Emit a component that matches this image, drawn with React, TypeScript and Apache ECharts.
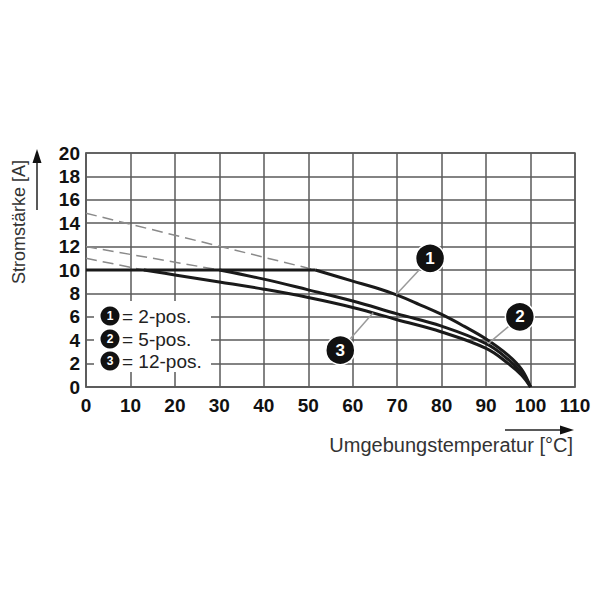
import React, { useEffect, useRef } from "react";
import * as echarts from "echarts";

// Derating curves (x = ambient temperature °C, y = current A)
const curve1Temps = [51.6, 60, 65, 70, 75, 80, 85, 90, 95, 98, 100];
const curve1Amps = [10, 9.05, 8.5, 7.85, 7.05, 6.2, 5.2, 4.1, 2.7, 1.5, 0];
const curve1FlatEnd = 51.6;
const curve1DashStart = 14.85;

const curve2Temps = [30, 40, 50, 60, 70, 80, 90, 95, 98, 100];
const curve2Amps = [10, 9.22, 8.3, 7.35, 6.25, 5.2, 3.7, 2.35, 1.2, 0];
const curve2FlatEnd = 30;
const curve2DashStart = 12;

const curve3Temps = [13, 20, 30, 40, 50, 60, 70, 80, 90, 95, 98, 100];
const curve3Amps = [10, 9.58, 8.98, 8.36, 7.65, 6.8, 5.75, 4.7, 3.3, 2.0, 1.0, 0];
const curve3FlatEnd = 13;
const curve3DashStart = 11;

const ratedCurrent = 10;

// Callout markers: [x, y] of badge and [x, y] of the point on the curve
const calloutLabels = ["1", "2", "3"];
const calloutBadges = [[77.4, 11.0], [97.6, 6.0], [57.2, 3.15]];
const calloutTargets = [[69.8, 7.9], [90.4, 3.68], [64.6, 6.35]];

const legendTexts = ["= 2-pos.", "= 5-pos.", "= 12-pos."];

const xTickMin = 0;
const xTickMax = 110;
const xTickStep = 10;
const yTickMin = 0;
const yTickMax = 20;
const yTickStep = 2;

const xName = "Umgebungstemperatur [°C]";
const yName = "Stromstärke [A]";

const FONT = "'Liberation Sans', Arial, Helvetica, sans-serif";

function zip(xs: number[], ys: number[]) {
  return xs.map((x, i) => [x, ys[i]]);
}

export default function App() {
  const ref = useRef<HTMLDivElement>(null);
  useEffect(() => {
    if (!ref.current) return;
    const chart = echarts.init(ref.current, undefined, { renderer: "svg" });
    const gridCol = "#5a5a5a";
    const solid = (data: number[][], smooth: boolean) => ({
      type: "line",
      data,
      symbol: "none",
      smooth: smooth ? 0.4 : false,
      lineStyle: { color: "#1a1a1a", width: 3 },
      z: 5,
      silent: true,
    });
    const dashed = (data: number[][]) => ({
      type: "line",
      data,
      symbol: "none",
      lineStyle: { color: "#8a8a8a", width: 1.5, type: [11, 6] },
      z: 4,
      silent: true,
    });
    const leaders = calloutBadges.map((b, i) => ({
      type: "line",
      data: [b, calloutTargets[i]],
      symbol: "none",
      lineStyle: { color: "#9a9a9a", width: 1.5 },
      z: 6,
      silent: true,
    }));

    const legendY = [316, 339, 361];
    const graphics: any[] = [
      {
        type: "rect",
        shape: { x: 94, y: 301, width: 117, height: 71 },
        style: { fill: "#fff" },
        z: 50,
      },
    ];
    legendY.forEach((y, i) => {
      graphics.push({
        type: "circle",
        shape: { cx: 110, cy: y, r: 9.5 },
        style: { fill: "#111" },
        z: 51,
      });
      graphics.push({
        type: "text",
        x: 110,
        y: y,
        style: {
          text: calloutLabels[i],
          fill: "#fff",
          font: `bold 12px ${FONT}`,
          align: "center",
          verticalAlign: "middle",
        },
        z: 52,
      });
      graphics.push({
        type: "text",
        x: 122,
        y: y,
        style: {
          text: legendTexts[i],
          fill: "#222",
          font: `19px ${FONT}`,
          align: "left",
          verticalAlign: "middle",
        },
        z: 52,
      });
    });
    // axis names and arrows
    graphics.push({
      type: "text",
      x: 19,
      y: 222,
      rotation: Math.PI / 2,
      style: {
        text: yName,
        fill: "#333",
        font: `18px ${FONT}`,
        align: "center",
        verticalAlign: "middle",
      },
      z: 52,
    });
    graphics.push({
      type: "line",
      shape: { x1: 37, y1: 210, x2: 37, y2: 160 },
      style: { stroke: "#222", lineWidth: 1.5 },
      z: 52,
    });
    graphics.push({
      type: "polygon",
      shape: { points: [[37, 149], [32.5, 163], [41.5, 163]] },
      style: { fill: "#111" },
      z: 52,
    });
    graphics.push({
      type: "text",
      x: 573,
      y: 445,
      style: {
        text: xName,
        fill: "#333",
        font: `20px ${FONT}`,
        align: "right",
        verticalAlign: "middle",
      },
      z: 52,
    });
    graphics.push({
      type: "line",
      shape: { x1: 505, y1: 430, x2: 562, y2: 430 },
      style: { stroke: "#222", lineWidth: 1.5 },
      z: 52,
    });
    graphics.push({
      type: "polygon",
      shape: { points: [[574, 430], [560, 425.5], [560, 434.5]] },
      style: { fill: "#111" },
      z: 52,
    });

    chart.setOption({
      animation: false,
      backgroundColor: "#fff",
      grid: {
        left: 86,
        right: 25,
        top: 153,
        bottom: 213,
        show: true,
        borderColor: gridCol,
        borderWidth: 1.5,
        backgroundColor: "transparent",
      },
      xAxis: {
        type: "value",
        min: xTickMin,
        max: xTickMax,
        interval: xTickStep,
        axisLine: { show: true, lineStyle: { color: gridCol, width: 1.5 } },
        axisTick: { show: false },
        splitLine: { show: true, lineStyle: { color: gridCol, width: 1.5 } },
        axisLabel: {
          color: "#111",
          fontWeight: "bold",
          fontSize: 19,
          fontFamily: FONT,
          margin: 9,
        },
      },
      yAxis: {
        type: "value",
        min: yTickMin,
        max: yTickMax,
        interval: yTickStep,
        axisLine: { show: true, lineStyle: { color: gridCol, width: 1.5 } },
        axisTick: { show: false },
        splitLine: { show: true, lineStyle: { color: gridCol, width: 1.5 } },
        axisLabel: {
          color: "#111",
          fontWeight: "bold",
          fontSize: 19,
          fontFamily: FONT,
          margin: 6,
        },
      },
      series: [
        dashed([[0, curve1DashStart], [curve1FlatEnd, ratedCurrent]]),
        dashed([[0, curve2DashStart], [curve2FlatEnd, ratedCurrent]]),
        dashed([[0, curve3DashStart], [curve3FlatEnd, ratedCurrent]]),
        solid([[0, ratedCurrent], [curve1FlatEnd, ratedCurrent]], false),
        solid(zip(curve1Temps, curve1Amps), true),
        solid(zip(curve2Temps, curve2Amps), true),
        solid(zip(curve3Temps, curve3Amps), true),
        ...leaders,
        {
          type: "scatter",
          data: calloutBadges.map((b, i) => ({ value: b, name: calloutLabels[i] })),
          symbol: "circle",
          symbolSize: 29,
          itemStyle: { color: "#111", opacity: 1, borderColor: "#fff", borderWidth: 1.5 },
          label: {
            show: true,
            position: "inside",
            formatter: (p: any) => p.name,
            color: "#fff",
            fontSize: 17,
            fontWeight: "bold",
            fontFamily: FONT,
          },
          z: 8,
          silent: true,
        },
      ],
      graphic: graphics,
    });
    return () => chart.dispose();
  }, []);
  return (
    <div
      ref={ref}
      style={{ position: "fixed", left: 0, top: 0, width: 600, height: 600, background: "#fff" }}
    />
  );
}
